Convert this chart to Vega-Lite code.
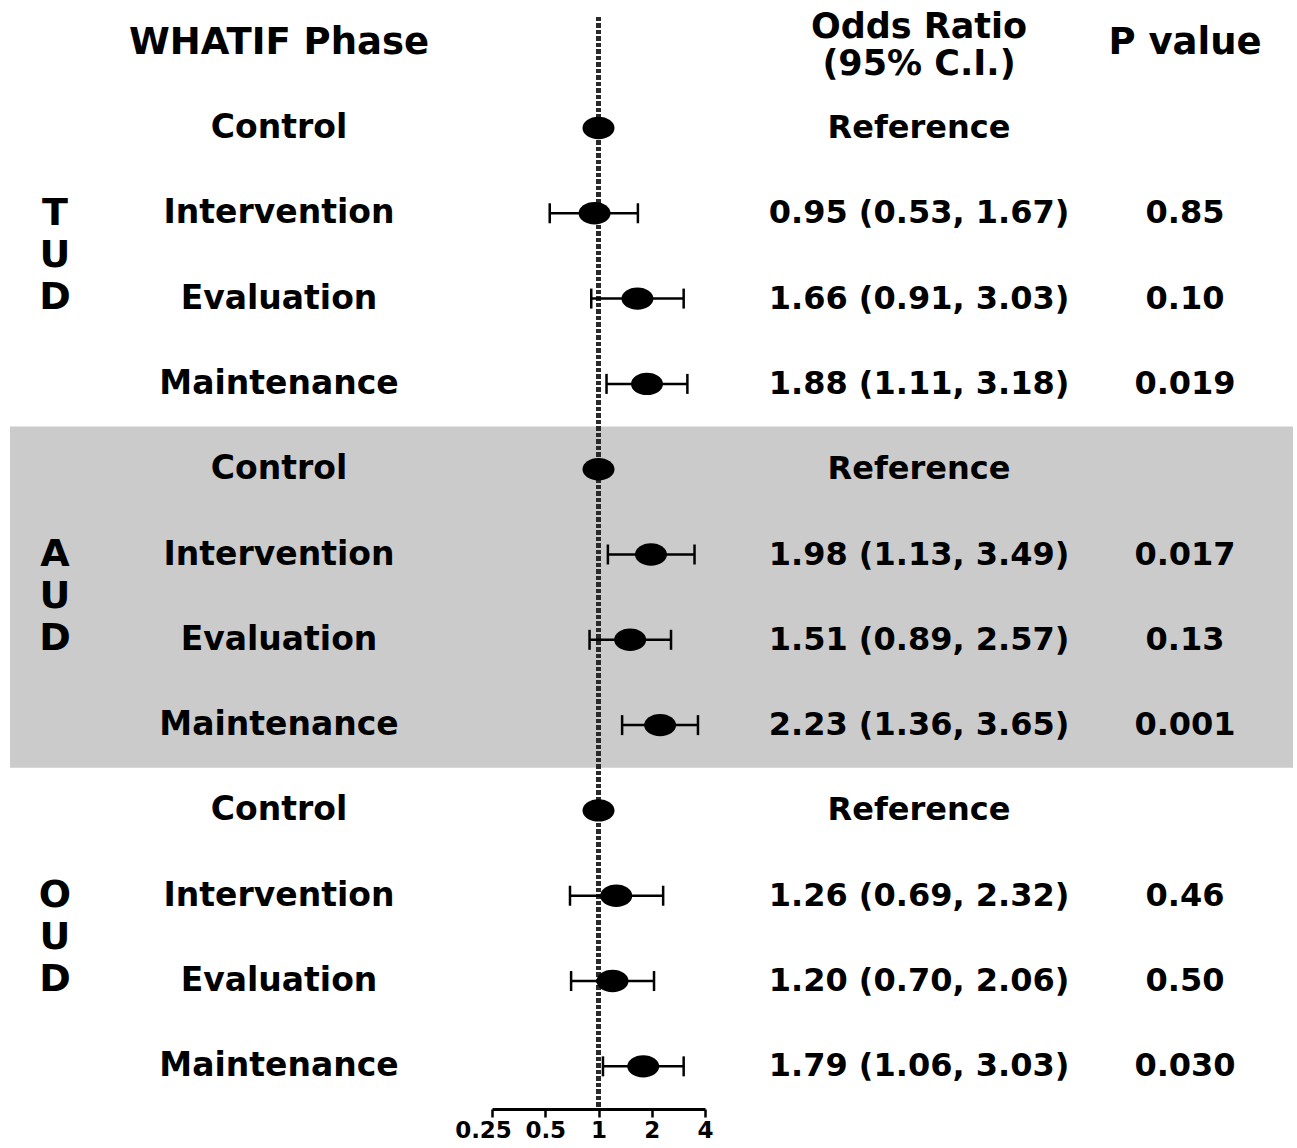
{
  "$schema": "https://vega.github.io/schema/vega-lite/v6.json",
  "background": "white",
  "padding": {"left": 10, "top": 0, "right": 4, "bottom": 0},
  "spacing": 0,
  "bounds": "flush",
  "config": {
    "view": {"stroke": null},
    "text": {"font": "DejaVu Sans", "fontWeight": "bold", "color": "black"}
  },
  "datasets": {
    "rows": [
      {"disorder": "TUD", "phase": "Control", "row": 0, "or": 1, "lo": null, "hi": null, "ci": "Reference", "p": null},
      {"disorder": "TUD", "phase": "Intervention", "row": 1, "or": 0.95, "lo": 0.53, "hi": 1.67, "ci": "0.95 (0.53, 1.67)", "p": "0.85"},
      {"disorder": "TUD", "phase": "Evaluation", "row": 2, "or": 1.66, "lo": 0.91, "hi": 3.03, "ci": "1.66 (0.91, 3.03)", "p": "0.10"},
      {"disorder": "TUD", "phase": "Maintenance", "row": 3, "or": 1.88, "lo": 1.11, "hi": 3.18, "ci": "1.88 (1.11, 3.18)", "p": "0.019"},
      {"disorder": "AUD", "phase": "Control", "row": 4, "or": 1, "lo": null, "hi": null, "ci": "Reference", "p": null},
      {"disorder": "AUD", "phase": "Intervention", "row": 5, "or": 1.98, "lo": 1.13, "hi": 3.49, "ci": "1.98 (1.13, 3.49)", "p": "0.017"},
      {"disorder": "AUD", "phase": "Evaluation", "row": 6, "or": 1.51, "lo": 0.89, "hi": 2.57, "ci": "1.51 (0.89, 2.57)", "p": "0.13"},
      {"disorder": "AUD", "phase": "Maintenance", "row": 7, "or": 2.23, "lo": 1.36, "hi": 3.65, "ci": "2.23 (1.36, 3.65)", "p": "0.001"},
      {"disorder": "OUD", "phase": "Control", "row": 8, "or": 1, "lo": null, "hi": null, "ci": "Reference", "p": null},
      {"disorder": "OUD", "phase": "Intervention", "row": 9, "or": 1.26, "lo": 0.69, "hi": 2.32, "ci": "1.26 (0.69, 2.32)", "p": "0.46"},
      {"disorder": "OUD", "phase": "Evaluation", "row": 10, "or": 1.20, "lo": 0.70, "hi": 2.06, "ci": "1.20 (0.70, 2.06)", "p": "0.50"},
      {"disorder": "OUD", "phase": "Maintenance", "row": 11, "or": 1.79, "lo": 1.06, "hi": 3.03, "ci": "1.79 (1.06, 3.03)", "p": "0.030"}
    ],
    "groups": [
      {"disorder": "TUD", "letters": "T\nU\nD"},
      {"disorder": "AUD", "letters": "A\nU\nD"},
      {"disorder": "OUD", "letters": "O\nU\nD"}
    ],
    "bands": [{"from": 3.5, "to": 7.5}],
    "headers": [
      {"col": "phase", "row": -1, "text": "WHATIF Phase"},
      {"col": "or", "row": -1, "text": "Odds Ratio\n(95% C.I.)"},
      {"col": "p", "row": -1, "text": "P value"}
    ]
  },
  "hconcat": [
    {
      "width": 90, "height": 1109,
      "layer": [
        {"data": {"name": "bands"}, "mark": {"type": "rect", "color": "#cbcbcb"},
         "encoding": {"y": {"field": "from", "type": "quantitative", "scale": {"domain": [-1.5, 11.5], "reverse": true, "nice": false, "zero": false}, "axis": null}, "y2": {"field": "to"}}},
        {"data": {"name": "rows"},
         "transform": [
           {"aggregate": [{"op": "mean", "field": "row", "as": "mid"}], "groupby": ["disorder"]},
           {"lookup": "disorder", "from": {"data": {"name": "groups"}, "key": "disorder", "fields": ["letters"]}}
         ],
         "mark": {"type": "text", "fontSize": 38, "lineBreak": "\n", "lineHeight": 42, "baseline": "middle", "align": "center", "dy": -42},
         "encoding": {"y": {"field": "mid", "type": "quantitative", "scale": {"domain": [-1.5, 11.5], "reverse": true, "nice": false, "zero": false}, "axis": null}, "text": {"field": "letters"}}}
      ]
    },
    {
      "width": 358, "height": 1109,
      "layer": [
        {"data": {"name": "bands"}, "mark": {"type": "rect", "color": "#cbcbcb"},
         "encoding": {"y": {"field": "from", "type": "quantitative", "scale": {"domain": [-1.5, 11.5], "reverse": true, "nice": false, "zero": false}, "axis": null}, "y2": {"field": "to"}}},
        {"data": {"name": "rows"},
         "mark": {"type": "text", "fontSize": 33, "baseline": "middle", "align": "center"},
         "encoding": {"y": {"field": "row", "type": "quantitative", "scale": {"domain": [-1.5, 11.5], "reverse": true, "nice": false, "zero": false}, "axis": null}, "text": {"field": "phase"}}},
        {"data": {"name": "headers"}, "transform": [{"filter": "datum.col == 'phase'"}],
         "mark": {"type": "text", "fontSize": 37, "baseline": "middle", "align": "center"},
         "encoding": {"y": {"field": "row", "type": "quantitative", "scale": {"domain": [-1.5, 11.5], "reverse": true, "nice": false, "zero": false}, "axis": null}, "text": {"field": "text"}}}
      ]
    },
    {
      "width": 34, "height": 1109,
      "layer": [
        {"data": {"name": "bands"}, "mark": {"type": "rect", "color": "#cbcbcb"},
         "encoding": {"y": {"field": "from", "type": "quantitative", "scale": {"domain": [-1.5, 11.5], "reverse": true, "nice": false, "zero": false}, "axis": null}, "y2": {"field": "to"}}}
      ]
    },
    {
      "width": 213, "height": 1109,
      "layer": [
        {"data": {"name": "bands"}, "mark": {"type": "rect", "color": "#cbcbcb"},
         "encoding": {"y": {"field": "from", "type": "quantitative", "scale": {"domain": [-1.5, 11.5], "reverse": true, "nice": false, "zero": false}, "axis": null}, "y2": {"field": "to"}}},
        {"data": {"name": "rows"},
         "mark": {"type": "rule", "strokeDash": [4, 2.5], "strokeWidth": 4.5, "color": "#2a2a2a"},
         "encoding": {
           "x": {"datum": 1, "type": "quantitative", "scale": {"type": "log", "base": 2, "domain": [0.25, 4], "nice": false, "zero": false},
                 "axis": {"values": [0.25, 0.5, 1, 2, 4], "format": "~g", "title": null, "grid": false, "domainColor": "black", "domainWidth": 3, "tickColor": "black", "tickWidth": 2.5, "tickSize": 8, "labelFont": "DejaVu Sans", "labelFontWeight": "bold", "labelFontSize": 23, "labelColor": "black", "labelPadding": 2, "labelOverlap": false, "labelFlush": false,
                          "labelOffset": {"condition": {"test": "datum.value == 0.25", "value": -9}, "value": 0}}},
           "y": {"datum": -1.3, "type": "quantitative", "scale": {"domain": [-1.5, 11.5], "reverse": true, "nice": false, "zero": false}, "axis": null},
           "y2": {"datum": 11.5}
         }},
        {"data": {"name": "rows"}, "transform": [{"filter": "datum.lo != null"}],
         "mark": {"type": "rule", "strokeWidth": 2.5, "color": "black"},
         "encoding": {
           "x": {"field": "lo", "type": "quantitative"},
           "x2": {"field": "hi"},
           "y": {"field": "row", "type": "quantitative"}
         }},
        {"data": {"name": "rows"}, "transform": [{"filter": "datum.lo != null"}],
         "mark": {"type": "tick", "orient": "vertical", "size": 20, "thickness": 2.5, "color": "black", "opacity": 1},
         "encoding": {
           "x": {"field": "lo", "type": "quantitative"},
           "y": {"field": "row", "type": "quantitative"}
         }},
        {"data": {"name": "rows"}, "transform": [{"filter": "datum.hi != null"}],
         "mark": {"type": "tick", "orient": "vertical", "size": 20, "thickness": 2.5, "color": "black", "opacity": 1},
         "encoding": {
           "x": {"field": "hi", "type": "quantitative"},
           "y": {"field": "row", "type": "quantitative"}
         }},
        {"data": {"name": "rows"},
         "mark": {"type": "point", "shape": "M-1,0C-1,-0.39 -0.55,-0.7 0,-0.7C0.55,-0.7 1,-0.39 1,0C1,0.39 0.55,0.7 0,0.7C-0.55,0.7 -1,0.39 -1,0Z", "size": 1024, "filled": true, "color": "black", "opacity": 1, "strokeWidth": 0},
         "encoding": {
           "x": {"field": "or", "type": "quantitative"},
           "y": {"field": "row", "type": "quantitative"}
         }}
      ]
    },
    {
      "width": 56, "height": 1109,
      "layer": [
        {"data": {"name": "bands"}, "mark": {"type": "rect", "color": "#cbcbcb"},
         "encoding": {"y": {"field": "from", "type": "quantitative", "scale": {"domain": [-1.5, 11.5], "reverse": true, "nice": false, "zero": false}, "axis": null}, "y2": {"field": "to"}}}
      ]
    },
    {
      "width": 316, "height": 1109,
      "layer": [
        {"data": {"name": "bands"}, "mark": {"type": "rect", "color": "#cbcbcb"},
         "encoding": {"y": {"field": "from", "type": "quantitative", "scale": {"domain": [-1.5, 11.5], "reverse": true, "nice": false, "zero": false}, "axis": null}, "y2": {"field": "to"}}},
        {"data": {"name": "rows"},
         "mark": {"type": "text", "fontSize": 32, "baseline": "middle", "align": "center"},
         "encoding": {"y": {"field": "row", "type": "quantitative", "scale": {"domain": [-1.5, 11.5], "reverse": true, "nice": false, "zero": false}, "axis": null}, "text": {"field": "ci"}}},
        {"data": {"name": "headers"}, "transform": [{"filter": "datum.col == 'or'"}],
         "mark": {"type": "text", "fontSize": 35, "baseline": "middle", "align": "center", "lineBreak": "\n", "lineHeight": 37, "dy": -16},
         "encoding": {"y": {"field": "row", "type": "quantitative", "scale": {"domain": [-1.5, 11.5], "reverse": true, "nice": false, "zero": false}, "axis": null}, "text": {"field": "text"}}}
      ]
    },
    {
      "width": 216, "height": 1109,
      "layer": [
        {"data": {"name": "bands"}, "mark": {"type": "rect", "color": "#cbcbcb"},
         "encoding": {"y": {"field": "from", "type": "quantitative", "scale": {"domain": [-1.5, 11.5], "reverse": true, "nice": false, "zero": false}, "axis": null}, "y2": {"field": "to"}}},
        {"data": {"name": "rows"}, "transform": [{"filter": "datum.p != null"}],
         "mark": {"type": "text", "fontSize": 32, "baseline": "middle", "align": "center"},
         "encoding": {"y": {"field": "row", "type": "quantitative", "scale": {"domain": [-1.5, 11.5], "reverse": true, "nice": false, "zero": false}, "axis": null}, "text": {"field": "p"}}},
        {"data": {"name": "headers"}, "transform": [{"filter": "datum.col == 'p'"}],
         "mark": {"type": "text", "fontSize": 37, "baseline": "middle", "align": "center"},
         "encoding": {"y": {"field": "row", "type": "quantitative", "scale": {"domain": [-1.5, 11.5], "reverse": true, "nice": false, "zero": false}, "axis": null}, "text": {"field": "text"}}}
      ]
    }
  ]
}
